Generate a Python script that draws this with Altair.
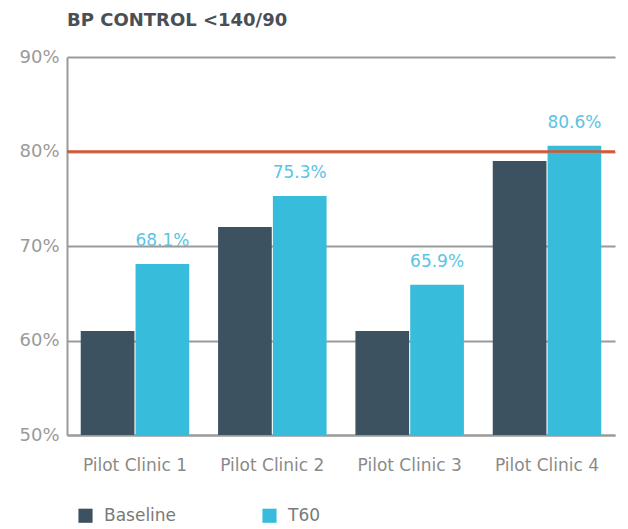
import altair as alt
import pandas as pd

clinics = ["Pilot Clinic 1", "Pilot Clinic 2", "Pilot Clinic 3", "Pilot Clinic 4"]
baseline = [61.0, 72.0, 61.0, 79.0]
t60 = [68.1, 75.3, 65.9, 80.6]
series = ["Baseline", "T60"]
colors = ["#3d5261", "#38bcdc"]
target = 80

rows = []
for c, b, t in zip(clinics, baseline, t60):
    rows.append({"clinic": c, "series": "Baseline", "value": b, "label": ""})
    rows.append({"clinic": c, "series": "T60", "value": t, "label": f"{t:.1f}%"})
df = pd.DataFrame(rows)

font = "DejaVu Sans"

x = alt.X("clinic:N", sort=clinics, title=None,
          scale=alt.Scale(paddingInner=0.21, paddingOuter=0.1),
          axis=alt.Axis(labelAngle=0, labelFontSize=17, labelColor="#8a8a8a",
                        labelFont=font, ticks=False, labelPadding=22,
                        domainColor="#9a9a9a", domainWidth=2))
y = alt.Y("value:Q", title=None,
          scale=alt.Scale(domain=[50, 90], nice=False, zero=False),
          axis=alt.Axis(values=[50, 60, 70, 80, 90], labelExpr="datum.value + '%'",
                        labelFontSize=18, labelColor="#9a9a9a", labelFont=font,
                        ticks=False, labelPadding=8, gridColor="#9a9a9a",
                        gridWidth=2, domainColor="#9a9a9a", domainWidth=2))

base = alt.Chart(df)

bars = base.mark_bar(clip=True).encode(
    x=x,
    xOffset=alt.XOffset("series:N", sort=series, scale=alt.Scale(paddingInner=0.02)),
    y=y,
    y2=alt.datum(50),
    color=alt.Color("series:N", sort=series, title=None,
                    scale=alt.Scale(domain=series, range=colors),
                    legend=alt.Legend(orient="none", legendX=10, legendY=450,
                                      direction="horizontal",
                                      symbolType="square", symbolSize=200,
                                      symbolStrokeWidth=0, labelFontSize=17,
                                      labelColor="#7a7a7a", labelFont=font,
                                      columnPadding=84, labelOffset=10,
                                      labelLimit=200)),
)

labels = base.transform_filter(alt.datum.series == "T60").mark_text(
    dy=-23, fontSize=17, color="#5cc3e2", font=font
).encode(
    x=alt.X("clinic:N", sort=clinics),
    xOffset=alt.XOffset("series:N", sort=series),
    y="value:Q",
    text="label:N",
)

rule = alt.Chart(pd.DataFrame({"t": [target]})).mark_rule(
    color="#d9542c", strokeWidth=2.5
).encode(y="t:Q")

chart = alt.layer(bars, rule, labels).properties(
    width=548, height=378,
    title=alt.Title("BP CONTROL <140/90", anchor="start", frame="group",
                    fontSize=18, fontWeight="bold", color="#4a4f55", font=font,
                    offset=18),
    padding={"left": 10, "top": 4, "right": 0, "bottom": 0},
).configure_view(stroke=None)

chart.save("out.html", embed_options={"renderer": "svg", "actions": False})
